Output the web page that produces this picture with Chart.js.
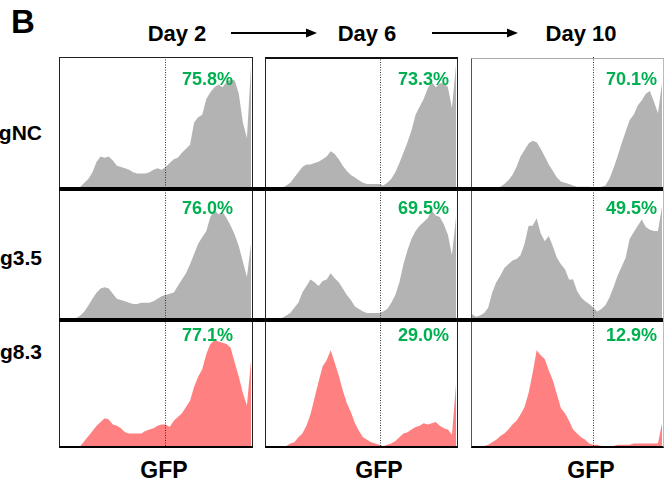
<!DOCTYPE html>
<html lang="en">
<head>
<meta charset="UTF-8">
<title>GFP histograms</title>
<script src="https://cdn.jsdelivr.net/npm/chart.js"></script>
<style>
  body { margin: 0; width: 670px; height: 489px; position: relative; background: #fff; overflow: hidden;
         font-family: "Liberation Sans", Arial, sans-serif; }
  .lbl { position: absolute; font-weight: bold; color: #000; white-space: nowrap; line-height: 1; }
  .pct { position: absolute; font-weight: bold; color: #00b050; font-size: 18px; line-height: 1; text-align: right; z-index: 4; }
  .frame { position: absolute; box-sizing: border-box; z-index: 2; }
  .sep { position: absolute; background: #000; z-index: 3; }
  canvas { position: absolute; z-index: 1; }
</style>
</head>
<body>
<div class="lbl" style="left:11px;top:5px;font-size:33px;">B</div>
<svg width="670" height="60" style="position:absolute;left:0;top:0;">
  <line x1="231" y1="33" x2="308" y2="33" stroke="#000" stroke-width="2"/>
  <polygon points="306,28.5 317,33 306,37.5" fill="#000"/>
  <line x1="432" y1="33" x2="509" y2="33" stroke="#000" stroke-width="2"/>
  <polygon points="507,28.5 518,33 507,37.5" fill="#000"/>
</svg>

<script>
// column / row text
const days = ['Day 2', 'Day 6', 'Day 10'];
const guides = ['gNC', 'g3.5', 'g8.3'];
const gfpPct = [
  ['75.8%', '73.3%', '70.1%'],
  ['76.0%', '69.5%', '49.5%'],
  ['77.1%', '29.0%', '12.9%']
];
const xTitle = 'GFP';

// 48 bins across each panel, gate position in bins for each day
const bins = Array.from({ length: 48 }, (_, i) => i);
const gateBin = [25.8, 28.2, 29.9];

// histogram heights, % of panel height
const gNC_d2 = [0,0,0,0,0,1,4,7,12,20,24,23,24,21,17,16,15,14,12,11,11,11,12,14,15,14,16,19,22,23,27,30,33,50,54,56,68,73,77,79,77,81,83,82,72,50,38,93];
const gNC_d6 = [0,0,0,0,0,2,4,8,12,16,18,18,19,20,22,24,28,26,22,17,13,10,8,6,4,3,3,3,3,2,4,7,12,19,27,35,44,56,62,68,76,81,77,80,80,77,61,94];
const gNC_d10 = [0,0,0,0,0,0,0,1,3,6,10,16,24,29,34,36,35,30,24,18,13,8,5,4,3,2,1,1,1,1,0,0,1,2,7,15,24,34,43,52,56,63,67,72,74,66,57,80];

const g35_d2 = [0,0,0,0,0,2,5,10,15,20,23,24,23,19,15,14,13,12,11,11,12,12,12,13,15,17,18,19,20,25,30,35,42,50,58,63,68,79,84,81,83,78,72,65,56,44,32,58];
const g35_d6 = [0,0,0,0,0,2,4,8,12,20,25,30,28,25,29,30,35,31,28,23,18,14,9,7,5,4,4,4,4,5,7,12,18,28,42,53,62,68,72,75,78,84,80,79,73,65,49,79];
const g35_d10 = [3,1,2,4,8,20,28,33,39,42,45,46,49,58,72,72,78,66,60,64,56,47,42,38,30,30,21,16,13,11,8,5,7,10,16,24,33,40,47,62,67,72,77,71,69,68,68,87];

const g83_d2 = [0,0,0,0,0,0,4,8,12,16,19,22,21,17,16,14,11,10,10,10,10,12,13,14,16,17,17,15,20,23,26,31,36,47,55,61,73,81,84,83,82,81,78,66,55,42,32,68];
const g83_d6 = [0,0,0,0,0,0,2,3,7,10,16,25,38,51,63,68,76,66,56,44,34,27,18,12,7,5,3,2,1,0,1,2,4,7,10,11,13,15,16,18,17,18,19,16,14,13,9,49];
const g83_d10 = [0,0,0,0,1,3,5,8,10,13,17,20,25,31,42,58,76,72,69,60,52,41,30,26,20,13,10,7,5,2,1,1,0,0,0,0,1,1,1,1,2,2,2,2,2,2,2,18];

const panels = [
  [gNC_d2, gNC_d6, gNC_d10],
  [g35_d2, g35_d6, g35_d10],
  [g83_d2, g83_d6, g83_d10]
];
const rowColor = ['#b3b3b3', '#b3b3b3', '#ff8080'];

// layout
const colX = [60, 266, 472], colW = [191, 190, 190];
const rowY = [57, 190, 320], rowH = [131, 128, 126];
const pctRight = [233, 449, 657], pctY = [79, 208, 335];

const gatePlugin = {
  id: 'gate',
  afterDatasetsDraw(chart, args, opts) {
    const x = Math.round(chart.scales.x.getPixelForValue(opts.value)) + 0.5;
    const ctx = chart.ctx;
    ctx.save();
    ctx.strokeStyle = '#333';
    ctx.lineWidth = 1;
    ctx.setLineDash([1, 1.5]);
    ctx.beginPath();
    ctx.moveTo(x, 0);
    ctx.lineTo(x, chart.height);
    ctx.stroke();
    ctx.restore();
  }
};

function addDiv(cls, style, text) {
  const d = document.createElement('div');
  d.className = cls;
  d.setAttribute('style', style);
  if (text) d.textContent = text;
  document.body.appendChild(d);
  return d;
}

const dayX = [177, 367, 581], gfpX = [164, 379, 591], guideY = [132, 257, 351];
days.forEach((t, c) => {
  addDiv('lbl', `top:23px;font-size:22px;left:${dayX[c]}px;transform:translateX(-50%);`, t);
});
days.forEach((t, c) => {
  addDiv('lbl', `top:459px;font-size:23px;left:${gfpX[c]}px;transform:translateX(-50%);`, xTitle);
});
guides.forEach((g, r) => {
  addDiv('lbl', `right:${670 - 42}px;top:${guideY[r] - 10}px;font-size:21px;`, g);
});

for (let r = 0; r < 3; r++) {
  for (let c = 0; c < 3; c++) {
    const cv = document.createElement('canvas');
    cv.width = colW[c];
    cv.height = rowH[r];
    cv.style.left = colX[c] + 'px';
    cv.style.top = rowY[r] + 'px';
    document.body.appendChild(cv);
    new Chart(cv.getContext('2d'), {
      type: 'line',
      data: {
        labels: bins,
        datasets: [{
          data: panels[r][c],
          backgroundColor: rowColor[r],
          borderWidth: 0,
          pointRadius: 0,
          tension: 0,
          fill: 'origin'
        }]
      },
      options: {
        responsive: false,
        animation: false,
        devicePixelRatio: 1,
        layout: { padding: 0 },
        plugins: { legend: { display: false }, tooltip: { enabled: false }, gate: { value: gateBin[c] } },
        scales: {
          x: { display: false },
          y: { display: false, min: 0, max: 100 }
        }
      },
      plugins: [gatePlugin]
    });
    addDiv('pct', `right:${670 - pctRight[c]}px;top:${pctY[r] - 9}px;`, gfpPct[r][c]);
  }
}

// frames and row separators
addDiv('frame', 'left:59px;top:57px;width:194px;height:391px;border:1.5px solid #222;border-bottom:2px solid #000;');
addDiv('frame', 'left:265px;top:57px;width:193px;height:391px;border:1.5px solid #222;border-top:2px solid #111;border-bottom:2px solid #000;');
addDiv('frame', 'left:471px;top:58px;width:193px;height:390px;border-left:1.5px solid #555;border-top:1px solid #aaa;border-right:1px solid #bbb;border-bottom:2px solid #000;');
addDiv('sep', 'left:59px;top:187px;width:604px;height:4px;');
addDiv('sep', 'left:59px;top:318px;width:604px;height:4px;');
</script>
</body>
</html>
